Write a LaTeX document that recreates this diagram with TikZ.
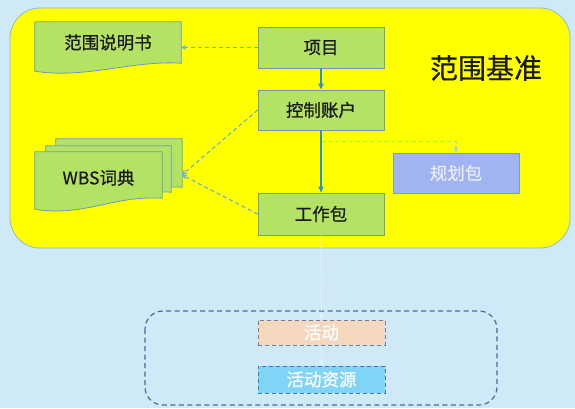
\documentclass[tikz,border=0pt]{standalone}
\usepackage{fontspec}
\setmainfont[FakeBold=0.6]{Noto Sans CJK SC}
\usetikzlibrary{arrows.meta,calc,backgrounds}
\pgfdeclarelayer{bottom}
\pgfsetlayers{bottom,background,main}
\definecolor{bgc}{HTML}{CFEAF6}
\definecolor{yel}{HTML}{FFFF00}
\definecolor{yelline}{HTML}{8CB8E0}
\definecolor{boxgreen}{HTML}{B4E264}
\definecolor{boxline}{HTML}{6A9AC0}
\definecolor{txt}{HTML}{1A1A1A}
\definecolor{dashblue}{HTML}{62B0E6}
\definecolor{solidblue}{HTML}{2A90E0}
\definecolor{paleline}{HTML}{A8D2DC}
\definecolor{dotline}{HTML}{E8F4FA}
\definecolor{planfill}{HTML}{A0B4F2}
\definecolor{planline}{HTML}{7A9AD8}
\definecolor{grpline}{HTML}{4A6A9A}
\definecolor{actfill}{HTML}{F4D8BE}
\definecolor{actline}{HTML}{6A80A4}
\definecolor{resfill}{HTML}{80D4F6}
\definecolor{resline}{HTML}{3A7AC0}
\newcommand{\fs}{\fontsize{17.5}{20}\selectfont}
\newcommand{\docshape}[2]{\path[fill=boxgreen,draw=boxline,line width=0.8pt] (#1.south east) -- (#1.north east) -- (#1.north west) -- ($(#1.south west)+(0,-#2)$) .. controls +(50,-8) and +(-50,3) .. (#1.south east) -- cycle;}
\tikzset{
  box/.style={draw=boxline, fill=boxgreen, line width=0.8pt, minimum width=126pt, minimum height=41pt, inner sep=0pt, font=\fs, text=txt},
  docbox/.style={draw=none, inner sep=0pt, font=\fs, text=txt},
  dasharrow/.style={draw=dashblue, line width=1.1pt, dash pattern=on 4pt off 3pt, -{Stealth[length=5pt,width=5pt]}},
  solidarrow/.style={draw=solidblue, line width=1.4pt, -{Triangle[length=6pt,width=5pt]}},
  palearrow/.style={draw=paleline, line width=1.1pt, dash pattern=on 4pt off 3pt, -{Stealth[length=5pt,width=5pt]}},
  dotarrow/.style={draw=dotline, line width=0.9pt, dash pattern=on 2pt off 1.5pt, -{Stealth[length=5pt,width=5pt]}},
}
\begin{document}
\begin{tikzpicture}[x=1pt,y=1pt]
\useasboundingbox (0,0) rectangle (575,408);
\begin{pgfonlayer}{bottom}
\fill[bgc] (0,0) rectangle (575,408);
\draw[fill=yel, draw=yelline, line width=0.8pt, rounded corners=30pt] (10,400) rectangle (570,160);
\end{pgfonlayer}

% title
\node[font=\fontsize{28}{32}\selectfont, text=txt] (title) at (486,340) {范围基准};

% main column
\node[box] (xm) at (321,360.5) {项目};
\node[box, minimum height=40pt] (kz) at (321,298) {控制账户};
\node[box, minimum height=42pt] (gz) at (321,194) {工作包};
\node[box, minimum height=40pt, fill=planfill, draw=planline, text=white!92!blue] (gh) at (456,235) {规划包};

% document shapes
\node[docbox, minimum width=146pt, minimum height=41pt] (fw) at (108,365.5) {范围说明书};
\node[docbox, minimum width=126pt, minimum height=48pt] (wbs3) at (119,245) {};
\node[docbox, minimum width=125pt, minimum height=46pt] (wbs2) at (108.5,239) {};
\node[docbox, minimum width=127pt, minimum height=46pt, text depth=0pt] (wbs1) at (98.5,233) {\raisebox{-4pt}{WBS词典}};
\begin{scope}[on background layer]
\docshape{fw}{8}
\docshape{wbs3}{9}
\docshape{wbs2}{10}
\docshape{wbs1}{11}
\end{scope}

\coordinate (wbsin) at (182,233);
\coordinate (split) at ($(kz.south)+(0,-11)$);

% connectors
\draw[dasharrow] (xm.west) -- (xm.west -| fw.east);
\draw[dasharrow] (kz.west) -- (wbsin);
\draw[dasharrow] (gz.west) -- (wbsin);
\draw[palearrow] (split) -| (gh.north);
\draw[solidarrow] (xm) -- (kz);
\draw[solidarrow] (kz) -- (gz);

% bottom group
\draw[draw=grpline, line width=1.2pt, dash pattern=on 5pt off 3.5pt, rounded corners=18pt] (145,97) rectangle (497,3);
\node[minimum width=127pt, minimum height=25pt, inner sep=0pt, fill=actfill, draw=actline, line width=1pt, dash pattern=on 4pt off 3pt, font=\fs, text=white] (hd) at (321.5,75.5) {活动};
\node[minimum width=127pt, minimum height=27pt, inner sep=0pt, fill=resfill, draw=resline, line width=1pt, dash pattern=on 4pt off 3pt, font=\fs, text=white] (zy) at (321.5,28.5) {活动资源};
\draw[dotarrow] (gz.south) -- (hd.north);
\draw[dotarrow] (hd.south) -- (zy.north);
\end{tikzpicture}
\end{document}
